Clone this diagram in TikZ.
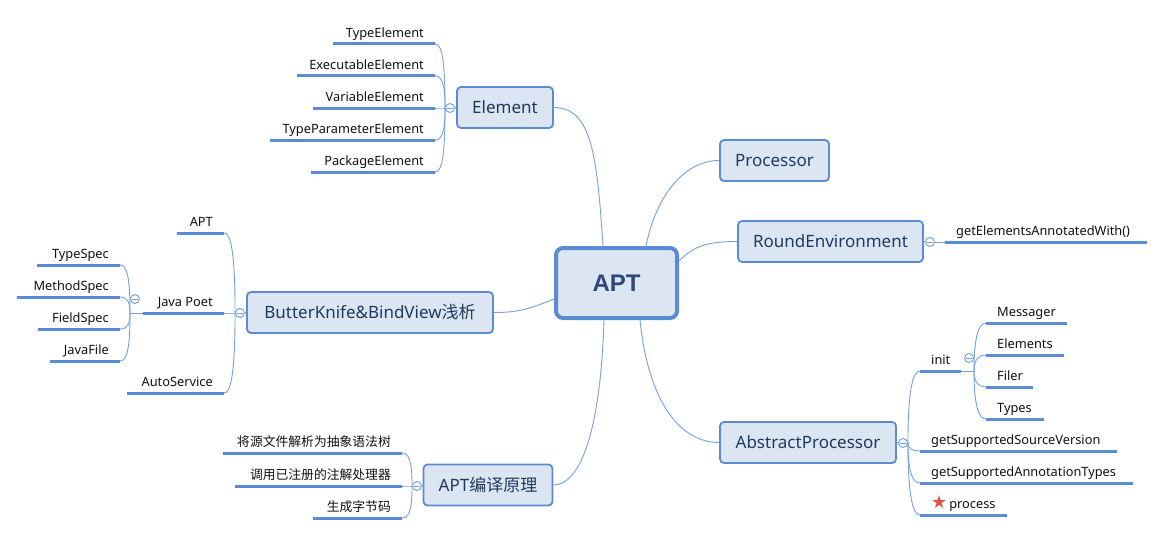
\documentclass[tikz,border=0pt]{standalone}
\usepackage{fontspec}
\setmainfont{Noto Sans}
\newfontfamily\cjkf{Noto Sans CJK SC}
\newfontfamily\dvs{DejaVu Sans}
\newfontfamily\aptf{Liberation Sans}
\usetikzlibrary{calc}
\definecolor{boxfill}{HTML}{DCE6F2}
\definecolor{boxline}{HTML}{5B8BD2}
\definecolor{boxtext}{HTML}{1F3A5F}
\definecolor{apttext}{HTML}{2B4A78}
\definecolor{ulc}{HTML}{5A8CD5}
\definecolor{thinc}{HTML}{74A0DC}
\definecolor{starred}{HTML}{E8504A}
\definecolor{leaftext}{HTML}{111111}
\newcommand\brL[2]{\draw[conn] (#1) .. controls ($(#1)!.75!(#1|-#2)$) and ($(#2)+(7,0)$) .. (#2);}
\newcommand\brR[2]{\draw[conn] (#1) .. controls ($(#1)!.75!(#1|-#2)$) and ($(#2)+(-7,0)$) .. (#2);}
\newcommand\ulin[1]{\draw[ul] (#1.south west) -- (#1.south east);}
\begin{document}
\begin{tikzpicture}[x=1pt,y=-1pt,
  topic/.style={draw=boxline, line width=1.8pt, fill=boxfill, rounded corners=4pt, inner sep=0pt, minimum height=41pt, text=boxtext, font=\fontsize{17}{20}\selectfont},
  central/.style={draw=boxline, line width=4pt, fill=boxfill, rounded corners=7pt, inner sep=0pt, minimum width=121pt, minimum height=70pt, text=apttext, font=\aptf\bfseries\fontsize{24}{28}\selectfont},
  leaf/.style={inner xsep=11pt, inner ysep=3pt, text height=9.5pt, text depth=3.5pt, text=leaftext, font=\fontsize{12.8}{15}\selectfont, text width=#1},
  leafL/.style={leaf=#1, anchor=south east, align=flush right},
  leafR/.style={leaf=#1, anchor=south west, align=flush left},
  ul/.style={draw=ulc, line width=3pt},
  conn/.style={draw=thinc, line width=0.9pt},
  knob/.style={circle, draw=thinc, line width=0.9pt, fill=white, minimum size=9pt, inner sep=0pt, path picture={\draw[thinc, line width=0.9pt] ([xshift=-2.6pt]path picture bounding box.center) -- ([xshift=2.6pt]path picture bounding box.center);}},
]
\fill[white] (0,0) rectangle (1165,535);
\useasboundingbox (0,0) rectangle (1165,535);

% central and main topics
\node[central] (apt) at (616.5,283) {APT};
\node[topic, minimum width=96pt] (el) at (505,107.5) {Element};
\node[topic, minimum width=109pt] (pr) at (774.5,160.5) {Processor};
\node[topic, minimum width=185pt] (re) at (830.5,241.5) {RoundEnvironment};
\node[topic, minimum width=176pt] (ap) at (808,442.5) {AbstractProcessor};
\node[topic, minimum width=246pt] (bk) at (370,312.5) {ButterKnife\&BindView{\cjkf 浅析}};
\node[topic, minimum width=129pt] (yl) at (488,485) {APT{\cjkf 编译原理}};

\draw[conn] ([xshift=-13.5pt]apt.north) .. controls +(-6,-90) and +(38,0) .. (el.east);
\draw[conn] ([xshift=29.5pt]apt.north) .. controls +(10,-50) and +(-35,0) .. (pr.west);
\draw[conn] ([yshift=22pt]apt.east) .. controls +(15,-15) and +(-30,0) .. (re.west);
\draw[conn] ([xshift=23.5pt]apt.south) .. controls +(8,80) and +(-40,0) .. (ap.west);
\draw[conn] ([yshift=-16pt]apt.west) .. controls +(-25,10) and +(25,0) .. (bk.east);
\draw[conn] ([xshift=-12.5pt]apt.south) .. controls +(-3,100) and +(30,0) .. (yl.east);

% Element
\node[knob] (k1) at (450,108) {};
\draw[conn] (el.west) -- (k1.east);
\node[leafL=80pt] (e1) at (435,44) {TypeElement};
\node[leafL=116pt] (e2) at (435,76) {ExecutableElement};
\node[leafL=100pt] (e3) at (435,108) {VariableElement};
\node[leafL=143pt] (e4) at (435,140) {TypeParameterElement};
\node[leafL=102pt] (e5) at (435,172) {PackageElement};
\foreach \n in {e1,e2,e3,e4,e5}{\brL{k1.west}{\n.south east}\ulin{\n}}

% RoundEnvironment
\node[knob] (k2) at (930,242) {};
\draw[conn] (re.east) -- (k2.west);
\node[leafR=180pt] (r1) at (945,242) {getElementsAnnotatedWith()};
\draw[conn] (k2.east) -- (r1.south west);
\ulin{r1}

% ButterKnife
\node[knob] (k3) at (240,313) {};
\draw[conn] (bk.west) -- (k3.east);
\node[leafL=25pt] (b1) at (224,233) {APT};
\node[leafL=59pt] (b2) at (224,313) {Java~Poet};
\node[leafL=75pt] (b3) at (224,393) {AutoService};
\foreach \n in {b1,b2,b3}{\brL{k3.west}{\n.south east}\ulin{\n}}

% Java Poet
\node[knob] (k4) at (135,299) {};
\coordinate (jp) at (130,313);
\draw[conn] (b2.south west) -- (jp);
\node[leafL=61pt] (j1) at (120,265) {TypeSpec};
\node[leafL=81pt] (j2) at (120,297) {MethodSpec};
\node[leafL=60pt] (j3) at (120,329) {FieldSpec};
\node[leafL=48pt] (j4) at (120,361) {JavaFile};
\foreach \n in {j1,j2,j3,j4}{\brL{jp}{\n.south east}\ulin{\n}}

% AbstractProcessor
\node[knob] (k5) at (903,443) {};
\draw[conn] (ap.east) -- (k5.west);
\node[leafR=19pt] (a1) at (920,371) {init};
\node[leafR=175pt] (a2) at (920,451) {getSupportedSourceVersion};
\node[leafR=191pt] (a3) at (920,483) {getSupportedAnnotationTypes};
\node[leafR=65pt] (a4) at (920,515) {{\dvs\fontsize{18}{18}\selectfont\textcolor{starred}{★}}\hspace{2pt}process};
\foreach \n in {a1,a2,a3,a4}{\brR{k5.east}{\n.south west}\ulin{\n}}

% init
\node[knob] (k7) at (969,358) {};
\coordinate (ij) at (974,371);
\draw[conn] (a1.south east) -- (ij);
\node[leafR=59pt] (i1) at (986,323) {Messager};
\node[leafR=56pt] (i2) at (986,355) {Elements};
\node[leafR=25pt] (i3) at (986,387) {Filer};
\node[leafR=36pt] (i4) at (986,419) {Types};
\foreach \n in {i1,i2,i3,i4}{\brR{ij}{\n.south west}\ulin{\n}}

% APT compile principle
\node[knob] (k6) at (417,486) {};
\draw[conn] (yl.west) -- (k6.east);
\node[leafL=157pt] (c1) at (402,453) {{\cjkf 将源文件解析为抽象语法树}};
\node[leafL=145pt] (c2) at (402,486) {{\cjkf 调用已注册的注解处理器}};
\node[leafL=67pt] (c3) at (402,518) {{\cjkf 生成字节码}};
\foreach \n in {c1,c2,c3}{\brL{k6.west}{\n.south east}\ulin{\n}}
\end{tikzpicture}
\end{document}
